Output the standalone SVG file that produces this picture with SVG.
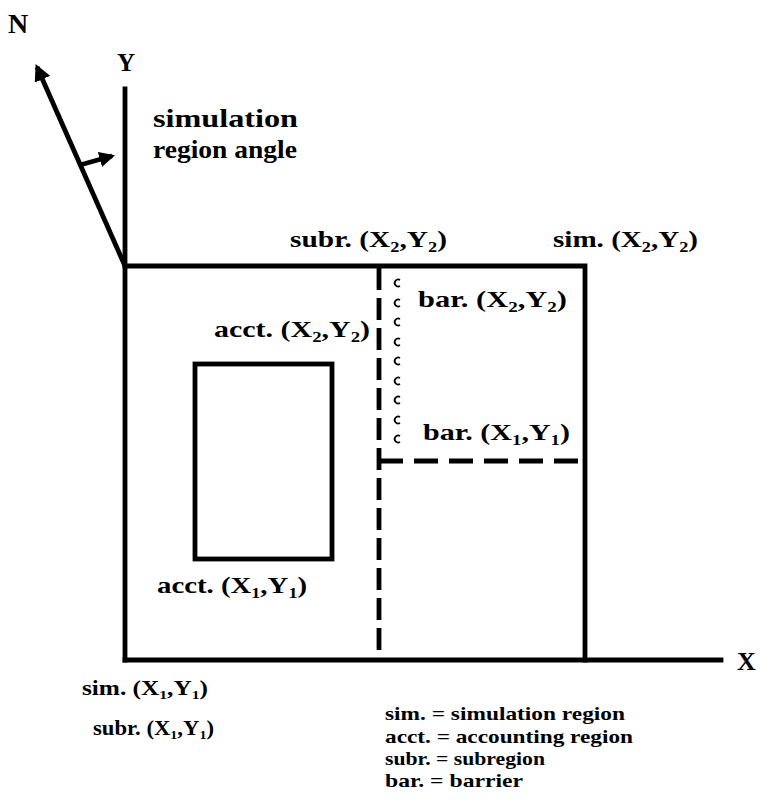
<svg xmlns="http://www.w3.org/2000/svg" width="760" height="809" viewBox="0 0 760 809">
<defs>
<style>
.t{font-family:"Liberation Serif","Times New Roman",serif;font-weight:bold;fill:#000;}
.lbl{font-size:24px;}
.sm{font-size:21px;}
.leg{font-size:19px;}
.s{font-size:15px;baseline-shift:-5px;}
.s2{font-size:13px;baseline-shift:-4px;}
.ln{stroke:#000;stroke-width:4.8;fill:none;stroke-linecap:square;}
.dash{stroke:#000;stroke-width:4.8;fill:none;}
.bar{stroke:#000;stroke-width:1.8;fill:none;}
</style>
<marker id="ah" viewBox="0 0 10 10" refX="8" refY="5" markerWidth="3.5" markerHeight="3.5" orient="auto" markerUnits="strokeWidth">
<path d="M0,0 L10,5 L0,10 z" fill="#000"/>
</marker>
</defs>
<rect width="760" height="809" fill="#fff"/>

<g id="axes">
<line class="ln" x1="125" y1="89" x2="125" y2="660"/>
<line class="ln" x1="125" y1="660" x2="721" y2="660"/>
<text class="t" x="117" y="71" font-size="25">Y</text>
<text class="t" x="737" y="670" font-size="26">X</text>
</g>

<g id="north">
<line x1="125" y1="266" x2="37" y2="67" stroke="#000" stroke-width="4.8" marker-end="url(#ah)"/>
<line x1="80" y1="165" x2="112" y2="156" stroke="#000" stroke-width="4.5" marker-end="url(#ah)"/>
<text class="t" x="8" y="33" font-size="28">N</text>
<text class="t" x="153" y="127" font-size="26" textLength="145" lengthAdjust="spacingAndGlyphs">simulation</text>
<text class="t" x="153" y="158" font-size="26" textLength="144" lengthAdjust="spacingAndGlyphs">region angle</text>
</g>

<g id="simulation-region">
<polyline class="ln" points="125,266 585,266 585,660"/>
<text class="t lbl" x="553" y="247" textLength="145" lengthAdjust="spacingAndGlyphs">sim.  (X<tspan class="s">2</tspan>,Y<tspan class="s">2</tspan>)</text>
<text class="t sm" x="82" y="695" textLength="126" lengthAdjust="spacingAndGlyphs">sim.  (X<tspan class="s2">1</tspan>,Y<tspan class="s2">1</tspan>)</text>
</g>

<g id="subregion">
<line class="dash" x1="379" y1="268" x2="379" y2="660" stroke-dasharray="22 8"/>
<line class="dash" x1="379" y1="461" x2="585" y2="461" stroke-dasharray="24 11"/>
<text class="t lbl" x="290" y="247" textLength="157" lengthAdjust="spacingAndGlyphs">subr.  (X<tspan class="s">2</tspan>,Y<tspan class="s">2</tspan>)</text>
<text class="t sm" x="93" y="735" textLength="121" lengthAdjust="spacingAndGlyphs">subr.  (X<tspan class="s2">1</tspan>,Y<tspan class="s2">1</tspan>)</text>
</g>

<g id="accounting-region">
<rect x="195" y="364" width="137" height="195" stroke="#000" stroke-width="4.8" fill="none"/>
<text class="t lbl" x="214" y="337" textLength="156" lengthAdjust="spacingAndGlyphs">acct.  (X<tspan class="s">2</tspan>,Y<tspan class="s">2</tspan>)</text>
<text class="t lbl" x="157" y="593" textLength="150" lengthAdjust="spacingAndGlyphs">acct.  (X<tspan class="s">1</tspan>,Y<tspan class="s">1</tspan>)</text>
</g>

<g id="barrier">
<path class="bar" d="M400,280 A3.5,3.5 0 1,0 400,286 M400,300 A3.5,3.5 0 1,0 400,306 M400,319 A3.5,3.5 0 1,0 400,325 M400,339 A3.5,3.5 0 1,0 400,345 M400,358 A3.5,3.5 0 1,0 400,364 M400,378 A3.5,3.5 0 1,0 400,384 M400,397 A3.5,3.5 0 1,0 400,403 M400,417 A3.5,3.5 0 1,0 400,423 M400,436 A3.5,3.5 0 1,0 400,442"/>
<text class="t lbl" x="418" y="307" textLength="149" lengthAdjust="spacingAndGlyphs">bar.  (X<tspan class="s">2</tspan>,Y<tspan class="s">2</tspan>)</text>
<text class="t lbl" x="423" y="440" textLength="147" lengthAdjust="spacingAndGlyphs">bar.  (X<tspan class="s">1</tspan>,Y<tspan class="s">1</tspan>)</text>
</g>

<g id="legend">
<text class="t leg" x="385" y="720" textLength="240" lengthAdjust="spacingAndGlyphs">sim. = simulation region</text>
<text class="t leg" x="385" y="743" textLength="248" lengthAdjust="spacingAndGlyphs">acct. = accounting region</text>
<text class="t leg" x="385" y="765" textLength="160" lengthAdjust="spacingAndGlyphs">subr. = subregion</text>
<text class="t leg" x="385" y="787" textLength="138" lengthAdjust="spacingAndGlyphs">bar. = barrier</text>
</g>
</svg>
